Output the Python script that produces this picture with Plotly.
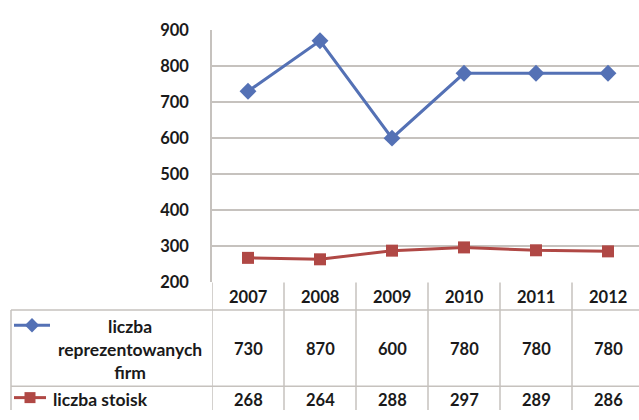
import plotly.graph_objects as go

years = ["2007", "2008", "2009", "2010", "2011", "2012"]
firms = [730, 870, 600, 780, 780, 780]
stands = [268, 264, 288, 297, 289, 286]
y_ticks = [200, 300, 400, 500, 600, 700, 800, 900]
series_names = ["liczba<br>reprezentowanych<br>firm", "liczba stoisk"]

W, H = 639, 420
BLUE = "#5471B5"
RED = "#B04845"
GRID = "#C6C2BE"
FONT = "Lato"
TXT = "#1a1a1a"

idx = list(range(len(years)))

fig = go.Figure()
fig.add_trace(go.Scatter(x=idx, y=firms, mode="lines+markers",
                         line=dict(color=BLUE, width=3),
                         marker=dict(symbol="diamond", size=13, color=BLUE),
                         showlegend=False, cliponaxis=False))
fig.add_trace(go.Scatter(x=idx, y=stands, mode="lines+markers",
                         line=dict(color=RED, width=3),
                         marker=dict(symbol="square", size=12, color=RED),
                         showlegend=False, cliponaxis=False))

# legend keys inside the table (pixel-coordinate axes covering the figure)
fig.add_trace(go.Scatter(x=[14, 32, 50], y=[331, 331, 331], xaxis="x2", yaxis="y2",
                         mode="lines", line=dict(color=BLUE, width=3), showlegend=False))
fig.add_trace(go.Scatter(x=[32], y=[331], xaxis="x2", yaxis="y2", mode="markers",
                         marker=dict(symbol="diamond", size=11, color=BLUE), showlegend=False))
fig.add_trace(go.Scatter(x=[14, 30, 46], y=[407, 407, 407], xaxis="x2", yaxis="y2",
                         mode="lines", line=dict(color=RED, width=3), showlegend=False))
fig.add_trace(go.Scatter(x=[30], y=[407], xaxis="x2", yaxis="y2", mode="markers",
                         marker=dict(symbol="square", size=11, color=RED), showlegend=False))

shapes = []
for i in range(len(years) + 1):
    shapes.append(dict(type="line", xref="x", yref="y2", x0=i - 0.5, x1=i - 0.5,
                       y0=286, y1=H, line=dict(color=GRID, width=1.5)))
shapes.append(dict(type="line", xref="x2", yref="y2", x0=11, x1=11, y0=315, y1=H,
                   line=dict(color=GRID, width=1.5)))
for yy in (315, 395):
    shapes.append(dict(type="line", xref="x2", yref="y2", x0=11, x1=W, y0=yy, y1=yy,
                       line=dict(color=GRID, width=1.5)))

annotations = []
font = dict(family=FONT, size=16.5, color=TXT, weight="bold")
font_l = dict(family=FONT, size=17.5, color=TXT, weight="bold")
for i, yr in enumerate(years):
    annotations.append(dict(x=i, y=301, xref="x", yref="y2", text=yr,
                            showarrow=False, font=font))
    annotations.append(dict(x=i, y=356, xref="x", yref="y2", text=str(firms[i]),
                            showarrow=False, font=font))
    annotations.append(dict(x=i, y=409, xref="x", yref="y2", text=str(stands[i]),
                            showarrow=False, font=font))
annotations.append(dict(x=130, y=356, xref="x2", yref="y2",
                        text=series_names[0], showarrow=False,
                        font=font_l, align="center"))
annotations.append(dict(x=51, y=409, xref="x2", yref="y2", xanchor="left",
                        text=series_names[1], showarrow=False, font=font_l))

fig.update_layout(
    width=W, height=H,
    margin=dict(l=0, r=0, t=0, b=0),
    paper_bgcolor="white", plot_bgcolor="rgba(0,0,0,0)",
    xaxis=dict(domain=[212 / W, 1], range=[-0.5, 5.5 - 5 / 72], showticklabels=False,
               showgrid=False, zeroline=False, showline=False, ticks=""),
    yaxis=dict(domain=[134 / H, 1 - 21 / H], range=[200, 900], tickvals=y_ticks,
               showgrid=True, gridcolor=GRID, gridwidth=1.5, zeroline=False,
               showline=True, linecolor=GRID, linewidth=1.5, ticks="",
               ticklabelstandoff=18,
               tickfont=dict(family=FONT, size=16.5, color=TXT, weight="bold")),
    xaxis2=dict(domain=[0, 1], range=[0, W], anchor="y2", visible=False),
    yaxis2=dict(domain=[0, 1], range=[H, 0], anchor="x2", visible=False),
    shapes=shapes,
    annotations=annotations,
)

fig.write_html("out.html")
